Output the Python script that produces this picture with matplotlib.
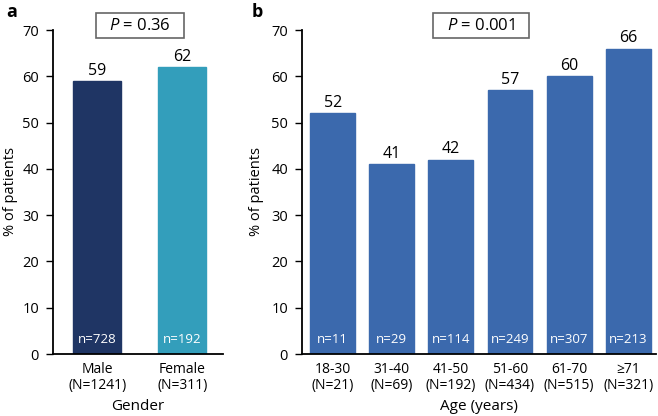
import matplotlib.pyplot as plt
from matplotlib.patches import Rectangle
import numpy as np

plt.rcParams['font.family'] = ['Open Sans', 'DejaVu Sans']
plt.rcParams['mathtext.fontset'] = 'custom'
plt.rcParams['mathtext.it'] = 'Open Sans:italic'

# panel a: gender
gender_labels = ['Male\n(N=1241)', 'Female\n(N=311)']
gender_pct = [59, 62]
gender_n = ['n=728', 'n=192']
gender_colors = ['#1f3564', '#339ebb']

# panel b: age
age_labels = ['18-30\n(N=21)', '31-40\n(N=69)', '41-50\n(N=192)',
              '51-60\n(N=434)', '61-70\n(N=515)', '\u226571\n(N=321)']
age_pct = [52, 41, 42, 57, 60, 66]
age_n = ['n=11', 'n=29', 'n=114', 'n=249', 'n=307', 'n=213']
age_color = '#3b69ad'

W, H = 658, 416
fig = plt.figure(figsize=(W / 100, H / 100), dpi=100)
ax1 = fig.add_axes([53 / W, 1 - 354 / H, 170 / W, 324 / H])
ax2 = fig.add_axes([302 / W, 1 - 354 / H, 354 / W, 324 / H])


def style(ax, label_x):
    ax.set_ylim(0, 70)
    ax.set_yticks(range(0, 71, 10))
    ax.spines['top'].set_visible(False)
    ax.spines['right'].set_visible(False)
    ax.spines['left'].set_linewidth(1.3)
    ax.spines['bottom'].set_linewidth(1.3)
    ax.tick_params(axis='y', direction='out', length=5, width=1, labelsize=10.5, pad=5)
    ax.tick_params(axis='x', length=0, labelsize=10, pad=6)
    ax.set_ylabel('% of patients', fontsize=10.5)
    ax.yaxis.set_label_coords(label_x, 0.5)


x1 = np.arange(len(gender_pct))
ax1.bar(x1, gender_pct, width=0.565, color=gender_colors, edgecolor=gender_colors)
ax1.set_xlim(-0.52, 1.48)
ax1.set_xticks(x1)
ax1.set_xticklabels(gender_labels, linespacing=1.1)
style(ax1, -0.206)
ax1.set_xlabel('Gender', fontsize=11, labelpad=4)
for xi, v, n in zip(x1, gender_pct, gender_n):
    ax1.text(xi, v + 0.5, str(v), ha='center', va='bottom', fontsize=11.5)
    ax1.text(xi, 1.8, n, ha='center', va='bottom', fontsize=9.5, color='white')

x2 = np.arange(len(age_pct))
ax2.bar(x2, age_pct, width=0.76, color=age_color, edgecolor=age_color)
ax2.set_xlim(-0.52, 5.47)
ax2.set_xticks(x2)
ax2.set_xticklabels(age_labels, linespacing=1.1)
style(ax2, -0.107)
ax2.set_xlabel('Age (years)', fontsize=11, labelpad=4)
for xi, v, n in zip(x2, age_pct, age_n):
    ax2.text(xi, v + 0.5, str(v), ha='center', va='bottom', fontsize=11.5)
    ax2.text(xi, 1.8, n, ha='center', va='bottom', fontsize=9.5, color='white')

# P-value boxes (x0, x1 in pixels)
for (bx0, bx1), txt in [((96, 184), '$P$ = 0.36'), ((433, 529), '$P$ = 0.001')]:
    fig.patches.append(Rectangle((bx0 / W, 1 - 38 / H), (bx1 - bx0) / W, 25 / H,
                                 transform=fig.transFigure, facecolor='white',
                                 edgecolor='#666666', linewidth=1.2))
    fig.text((bx0 + bx1) / 2 / W, 1 - 25.5 / H, txt, ha='center', va='center', fontsize=12)

fig.text(6 / W, 1 - 12 / H, 'a', fontsize=13, fontweight='bold', va='center')
fig.text(252 / W, 1 - 12 / H, 'b', fontsize=13, fontweight='bold', va='center')

fig.savefig('out.png', dpi=100)
